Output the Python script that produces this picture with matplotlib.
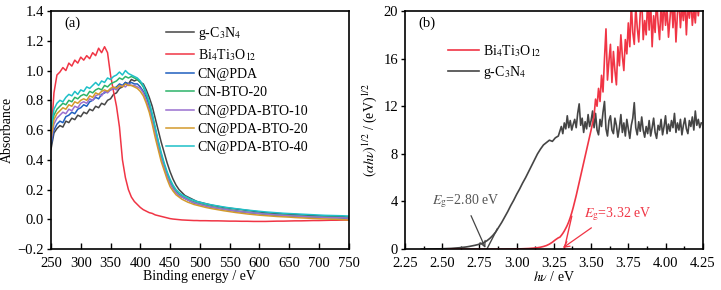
import numpy as np
import matplotlib
matplotlib.use("Agg")
import matplotlib.pyplot as plt

plt.rcParams['font.family'] = ['Liberation Serif', 'DejaVu Serif']
plt.rcParams['mathtext.fontset'] = 'stix'
plt.rcParams['font.size'] = 10.5

# ---- (a) absorbance spectra ----
wl = np.concatenate([np.arange(250, 501, 5), np.arange(510, 751, 10)])

abs_cn = [0.47, 0.58, 0.61, 0.63, 0.62, 0.66, 0.65, 0.68, 0.67, 0.70, 0.69, 0.72, 0.71, 0.74, 0.73, 0.76, 0.75,
          0.78, 0.77, 0.80, 0.81, 0.84, 0.85, 0.88, 0.89, 0.92, 0.91, 0.94, 0.93, 0.94, 0.92, 0.91, 0.87, 0.82,
          0.76, 0.68, 0.60, 0.52, 0.45, 0.38, 0.32, 0.27, 0.23, 0.20, 0.18, 0.16, 0.15, 0.14, 0.13, 0.12, 0.115,
          0.105, 0.095, 0.088, 0.08, 0.075, 0.07, 0.065, 0.06, 0.055, 0.05, 0.045, 0.042, 0.04, 0.037, 0.035,
          0.033, 0.03, 0.028, 0.025, 0.024, 0.022, 0.02, 0.02, 0.018, 0.015]
abs_bto = [0.55, 0.85, 0.97, 0.99, 1.02, 1.00, 1.05, 1.03, 1.07, 1.05, 1.09, 1.07, 1.10, 1.08, 1.12, 1.10, 1.15,
           1.12, 1.16, 1.12, 0.97, 0.86, 0.76, 0.62, 0.40, 0.28, 0.20, 0.15, 0.12, 0.10, 0.08, 0.065, 0.055, 0.045,
           0.04, 0.03, 0.025, 0.02, 0.015, 0.01, 0.005, 0.002, 0.0, -0.002, -0.004, -0.005, -0.006, -0.007, -0.008,
           -0.008, -0.009,
           -0.009, -0.01, -0.01, -0.011, -0.012, -0.012, -0.013, -0.013, -0.014, -0.014, -0.014, -0.013, -0.012,
           -0.012, -0.011, -0.01, -0.01, -0.009, -0.008, -0.008, -0.007, -0.006, -0.006, -0.005, -0.005]
abs_pda = [0.50, 0.60, 0.64, 0.66, 0.65, 0.69, 0.70, 0.72, 0.71, 0.74, 0.75, 0.77, 0.76, 0.79, 0.80, 0.82, 0.81,
           0.84, 0.85, 0.86, 0.87, 0.88, 0.89, 0.91, 0.90, 0.92, 0.91, 0.92, 0.91, 0.91, 0.89, 0.86, 0.82, 0.76,
           0.68, 0.60, 0.51, 0.43, 0.36, 0.30, 0.25, 0.21, 0.18, 0.16, 0.15, 0.14, 0.13, 0.12, 0.11, 0.105, 0.10,
           0.09, 0.08, 0.075, 0.068, 0.062, 0.056, 0.05, 0.046, 0.042, 0.038, 0.034, 0.03, 0.028, 0.025, 0.023,
           0.02, 0.018, 0.016, 0.015, 0.013, 0.012, 0.01, 0.01, 0.008, 0.005]
abs_cnbto = [0.58, 0.70, 0.74, 0.76, 0.78, 0.77, 0.80, 0.79, 0.82, 0.81, 0.83, 0.84, 0.83, 0.86, 0.85, 0.87, 0.88,
             0.87, 0.90, 0.89, 0.91, 0.92, 0.93, 0.95, 0.94, 0.96, 0.95, 0.96, 0.95, 0.94, 0.92, 0.89, 0.84, 0.78,
             0.70, 0.61, 0.52, 0.44, 0.37, 0.31, 0.26, 0.22, 0.19, 0.17, 0.155, 0.145, 0.135, 0.125, 0.118, 0.11,
             0.105,
             0.095, 0.085, 0.078, 0.07, 0.064, 0.058, 0.052, 0.048, 0.044, 0.04, 0.036, 0.033, 0.03, 0.028, 0.026,
             0.024, 0.022, 0.02, 0.018, 0.017, 0.016, 0.015, 0.014, 0.013, 0.012]
abs_b10 = [0.52, 0.64, 0.68, 0.70, 0.72, 0.71, 0.74, 0.73, 0.76, 0.75, 0.78, 0.79, 0.78, 0.81, 0.80, 0.83, 0.84,
           0.83, 0.86, 0.85, 0.87, 0.88, 0.87, 0.89, 0.90, 0.89, 0.91, 0.90, 0.90, 0.89, 0.88, 0.85, 0.80, 0.74,
           0.66, 0.58, 0.49, 0.41, 0.35, 0.29, 0.24, 0.205, 0.18, 0.16, 0.15, 0.14, 0.13, 0.12, 0.112, 0.105, 0.10,
           0.09, 0.082, 0.075, 0.068, 0.062, 0.056, 0.051, 0.047, 0.043, 0.039, 0.035, 0.032, 0.029, 0.026, 0.024,
           0.022, 0.02, 0.018, 0.016, 0.015, 0.013, 0.012, 0.011, 0.01, 0.008]
abs_b20 = [0.54, 0.67, 0.71, 0.73, 0.75, 0.74, 0.77, 0.76, 0.79, 0.78, 0.80, 0.81, 0.80, 0.83, 0.82, 0.85, 0.84,
           0.86, 0.87, 0.86, 0.88, 0.89, 0.88, 0.90, 0.89, 0.91, 0.90, 0.90, 0.89, 0.88, 0.86, 0.83, 0.78, 0.72,
           0.64, 0.55, 0.47, 0.39, 0.33, 0.27, 0.22, 0.19, 0.165, 0.15, 0.135, 0.125, 0.115, 0.108, 0.10, 0.095,
           0.09,
           0.08, 0.072, 0.065, 0.058, 0.052, 0.046, 0.041, 0.036, 0.032, 0.028, 0.025, 0.022, 0.019, 0.017, 0.015,
           0.012, 0.01, 0.008, 0.006, 0.004, 0.003, 0.001, 0.0, -0.002, -0.005]
abs_b40 = [0.60, 0.74, 0.78, 0.80, 0.79, 0.82, 0.84, 0.83, 0.86, 0.84, 0.87, 0.86, 0.89, 0.88, 0.90, 0.92, 0.90,
           0.93, 0.92, 0.95, 0.94, 0.96, 0.97, 0.99, 0.97, 1.00, 0.98, 0.97, 0.96, 0.95, 0.93, 0.90, 0.85, 0.79,
           0.71, 0.62, 0.53, 0.45, 0.38, 0.32, 0.27, 0.23, 0.20, 0.18, 0.165, 0.155, 0.145, 0.135, 0.128, 0.12,
           0.115,
           0.105, 0.097, 0.09, 0.083, 0.077, 0.072, 0.067, 0.062, 0.058, 0.054, 0.05, 0.047, 0.044, 0.041, 0.039,
           0.037, 0.035, 0.033, 0.031, 0.029, 0.027, 0.026, 0.025, 0.024, 0.022]

labels_a = ['g-C$_3$N$_4$', 'Bi$_4$Ti$_3$O$_{12}$', 'CN@PDA', 'CN-BTO-20',
            'CN@PDA-BTO-10', 'CN@PDA-BTO-20', 'CN@PDA-BTO-40']
series_a = [abs_cn, abs_bto, abs_pda, abs_cnbto, abs_b10, abs_b20, abs_b40]
colors_a = ['#454545', '#f03545', '#1f5fbf', '#2cb36a', '#9a70cf', '#d39a2c', '#1ec0c8']

# ---- (b) Tauc plot ----
hv_cn = np.round(np.concatenate([np.arange(2.36, 3.29, 0.02), np.arange(3.29, 4.245, 0.01)]), 2)
tauc_cn = [0.0, 0.0, 0.0, 0.01, 0.01, 0.02, 0.02, 0.03, 0.04, 0.05, 0.06, 0.08, 0.10, 0.12, 0.15, 0.18, 0.22,
           0.27, 0.32, 0.38, 0.45, 0.55, 0.70, 0.90, 1.15, 1.45, 1.85, 2.25, 2.70, 3.15, 3.65, 4.10, 4.60, 5.05,
           5.55, 6.00, 6.50, 7.00, 7.50, 8.00, 8.40, 8.75, 8.95, 9.15, 9.05, 9.35, 9.50,
           9.9, 10.3, 9.7, 10.6, 10.1, 11.2, 10.2, 10.8, 10.0, 10.5,
           10.9, 10.2, 11.4, 12.2, 10.4, 11.0, 9.8, 10.7, 10.1, 11.3,
           10.3, 10.8, 11.6, 10.2, 11.4, 10.0, 9.6, 10.9, 10.3, 11.5,
           12.4, 10.1, 9.5, 10.8, 11.2, 10.0, 9.7, 11.0, 10.4, 9.4,
           10.2, 11.3, 9.8, 10.6, 9.5, 10.9, 10.1, 9.3, 10.4, 11.0,
           12.3, 10.2, 9.6, 10.7, 9.9, 11.1, 10.0, 9.4, 10.3, 9.7,
           10.8, 9.5, 10.2, 11.0, 9.8, 9.3, 10.4, 10.0, 10.9, 9.6,
           10.3, 11.2, 9.7, 10.5, 9.9, 10.8, 10.2, 11.4, 9.8, 10.6,
           10.0, 10.9, 9.6, 10.4, 11.0, 10.1, 9.7, 10.8, 10.3, 11.1,
           10.0, 11.6, 10.4, 10.9, 10.2, 10.6]
hv_bto = np.round(np.concatenate([np.arange(2.54, 3.29, 0.02), np.arange(3.29, 4.245, 0.01)]), 2)
tauc_bto = [0, 0, 0, 0, 0, 0, 0, 0, 0, 0, 0, 0, 0, 0, 0, 0, 0, 0, 0, 0,
            0.01, 0.01, 0.01, 0.02, 0.02, 0.03, 0.04, 0.05, 0.07, 0.09, 0.12, 0.16, 0.22, 0.30, 0.42, 0.58,
            0.78, 0.95,
            1.0, 1.15, 1.32, 1.52, 1.75, 2.0, 2.3, 2.65, 3.05, 3.5,
            4.0, 4.5, 5.05, 5.6, 6.15, 6.7, 7.25, 7.8, 8.35, 8.9,
            9.45, 10.0, 10.6, 11.2, 12.6, 12.0, 13.5, 12.4, 14.6, 13.2,
            16.0, 18.5, 14.2, 15.8, 17.2, 14.0, 16.6, 15.0, 13.8, 17.0,
            15.4, 18.0, 16.2, 15.0, 17.6, 16.4, 19.0, 17.0, 20.6, 18.2,
            17.2, 20.4, 18.6, 17.4, 19.8, 21.0, 17.6, 19.2, 18.0, 21.0,
            18.4, 20.8, 17.0, 19.6, 18.2, 21.0, 19.0, 17.6, 20.6, 18.4,
            21.0, 18.8, 20.2, 17.8, 19.4, 21.0, 18.6, 20.8, 17.4, 19.8,
            21.0, 18.6, 20.4, 19.2, 21.0, 18.0, 20.6, 19.4, 21.0, 18.8,
            20.2, 19.0, 21.0, 19.6, 20.8, 20.2]
eg_cn, eg_bto = 2.80, 3.32
tan_cn_x, tan_cn_y = [2.80, 2.87], [0.0, 1.7]
tan_bto_x, tan_bto_y = [3.32, 3.37], [0.0, 2.75]

fig = plt.figure(figsize=(7.21, 2.90), dpi=100)
ax1 = fig.add_axes([0.0707, 0.141, 0.413, 0.821])
ax2 = fig.add_axes([0.5617, 0.141, 0.413, 0.821])

for y, lab, c in zip(series_a, labels_a, colors_a):
    ax1.plot(wl, y, color=c, lw=1.1, label=lab)
ax1.set_xlim(250, 750)
ax1.set_ylim(-0.2, 1.4)
ax1.set_xticks(np.arange(250, 751, 50))
ax1.set_yticks(np.arange(-0.2, 1.41, 0.2))
ax1.set_yticklabels(['\u22120.2', '0.0', '0.2', '0.4', '0.6', '0.8', '1.0', '1.2', '1.4'])
ax1.set_xlabel('Binding energy / eV', labelpad=0, fontsize=10)
ax1.set_ylabel('Absorbance', labelpad=3, fontsize=10)
ax1.text(0.045, 0.948, '(a)', transform=ax1.transAxes, va='center')
ax1.legend(loc='upper left', bbox_to_anchor=(0.367, 0.966), frameon=False, handlelength=2.0,
           labelspacing=0.38, handletextpad=0.3, borderaxespad=0, fontsize=10)

ax2.plot(hv_cn, tauc_cn, color='#454545', lw=1.2, label='g-C$_3$N$_4$')
ax2.plot(hv_bto, tauc_bto, color='#f03545', lw=1.2, label='Bi$_4$Ti$_3$O$_{12}$')
ax2.plot(tan_cn_x, tan_cn_y, color='#454545', lw=1.0)
ax2.plot(tan_bto_x, tan_bto_y, color='#f03545', lw=1.0)
ax2.annotate(r'$E_{\rm g}$=%.2f eV' % eg_cn, xy=(eg_cn - 0.01, 0.1), xytext=(2.655, 4.0),
             color='#555555', ha='center', va='center', fontsize=10,
             arrowprops=dict(arrowstyle='->', color='#454545', lw=0.9, shrinkA=2, shrinkB=0,
                             relpos=(0.55, 0.0)))
ax2.annotate(r'$E_{\rm g}$=%.2f eV' % eg_bto, xy=(eg_bto - 0.01, 0.1), xytext=(3.68, 2.9),
             color='#f03545', ha='center', va='center', fontsize=10,
             arrowprops=dict(arrowstyle='->', color='#f03545', lw=0.9, shrinkA=2, shrinkB=0,
                             relpos=(0.2, 0.0)))
ax2.set_xlim(2.25, 4.25)
ax2.set_ylim(0, 20)
ax2.set_xticks(np.arange(2.25, 4.26, 0.25))
ax2.set_xticklabels(['%.2f' % v for v in np.arange(2.25, 4.26, 0.25)])
ax2.set_xticks(np.arange(2.375, 4.25, 0.25), minor=True)
ax2.set_yticks(np.arange(0, 21, 4))
ax2.set_yticklabels([str(v) for v in range(0, 21, 4)], va='center_baseline')
ax2.set_xlabel(r'$h\nu$ / eV', labelpad=0, fontsize=10)
ax2.set_ylabel(r'$(\alpha h\nu)^{1/2}$ / (eV)$^{1/2}$', labelpad=3, fontsize=10)
ax2.text(0.044, 0.948, '(b)', transform=ax2.transAxes, va='center')
h, l = ax2.get_legend_handles_labels()
ax2.legend([h[1], h[0]], [l[1], l[0]], loc='upper left', bbox_to_anchor=(0.127, 0.888), frameon=False,
           handlelength=2.2, labelspacing=0.33, handletextpad=0.3, borderaxespad=0, fontsize=10)

for ax in (ax1, ax2):
    for s in ax.spines.values():
        s.set_linewidth(1.2)
    ax.tick_params(axis='x', which='both', direction='in', top=False, length=4, width=1.0, pad=5.5)
    ax.tick_params(axis='x', which='minor', length=2.5)
    ax.tick_params(axis='y', direction='out', right=False, length=3, width=1.0, pad=2)

fig.savefig('out.png', dpi=100)
